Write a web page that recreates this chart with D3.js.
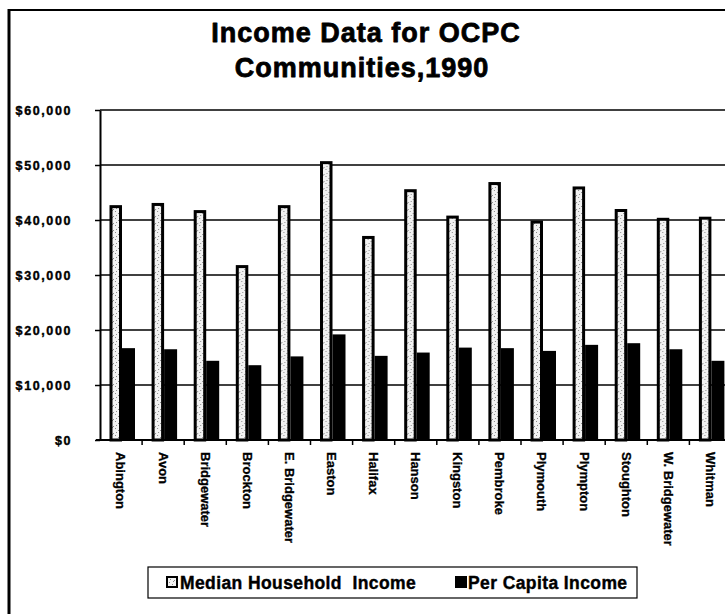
<!DOCTYPE html>
<html>
<head>
<meta charset="utf-8">
<script src="https://cdn.jsdelivr.net/npm/d3@7"></script>
<style>
  body { margin: 0; background: #fff; }
  text { font-family: "Liberation Sans", Arial, sans-serif; font-weight: bold; fill: #000; }
</style>
</head>
<body>
<script>
// 1990 income figures
var categories = ["Abington", "Avon", "Bridgewater", "Brockton", "E. Bridgewater", "Easton",
    "Halifax", "Hanson", "Kingston", "Pembroke", "Plymouth", "Plympton", "Stoughton",
    "W. Bridgewater", "Whitman"];
var seriesNames = ["Median Household  Income", "Per Capita Income"];
var medianIncome = [42700, 43100, 41800, 31800, 42700, 50700, 37100, 45600, 40800, 46900,
    39900, 46100, 42000, 40400, 40600];
var perCapitaIncome = [16700, 16500, 14400, 13600, 15200, 19200, 15300, 15900, 16800, 16700,
    16200, 17300, 17600, 16500, 14400];
var yTickValues = [0, 10000, 20000, 30000, 40000, 50000, 60000];

var width = 725,
    height = 614;

var plot = {left: 100, top: 110, bottom: 440, band: 42.1};

const svg = d3.select("body")
    .append("svg")
    .attr("width", width)
    .attr("height", height);

// stippled fill for the median bars
var pat = svg.append("defs").append("pattern")
    .attr("id", "stipple")
    .attr("patternUnits", "userSpaceOnUse")
    .attr("width", 7)
    .attr("height", 7);
pat.append("rect").attr("width", 7).attr("height", 7).attr("fill", "#f2f2f2");
[[1, 1], [4, 3], [2, 5], [6, 6], [5, 0]].forEach(p => {
    pat.append("rect").attr("x", p[0]).attr("y", p[1])
        .attr("width", 1).attr("height", 1).attr("fill", "#8a8a8a");
});

// outer frame (left and top edges only are visible)
svg.append("line").attr("x1", 9).attr("x2", 9).attr("y1", 9).attr("y2", height)
    .style("stroke", "#000").style("stroke-width", 3);
svg.append("line").attr("x1", 8).attr("x2", width).attr("y1", 10).attr("y2", 10)
    .style("stroke", "#000").style("stroke-width", 2);

// title
function heavy(sel, w) {
    sel.style("stroke", "#000").style("stroke-width", w).style("stroke-linejoin", "round");
}
svg.append("text").attr("x", 366).attr("y", 42)
    .attr("text-anchor", "middle")
    .style("font-size", "27px").style("letter-spacing", "1px")
    .text("Income Data for OCPC")
    .call(heavy, 0.8);
svg.append("text").attr("x", 362).attr("y", 77)
    .attr("text-anchor", "middle")
    .style("font-size", "27px").style("letter-spacing", "1px")
    .text("Communities,1990")
    .call(heavy, 0.8);

var x = d3.scaleBand()
    .domain(categories)
    .range([plot.left, plot.left + plot.band * categories.length])
    .padding(0);

var x1 = d3.scaleBand()
    .domain(seriesNames)
    .range([9.5, 34.5]);

var y = d3.scaleLinear()
    .domain([0, 60000])
    .range([plot.bottom, plot.top]);

// gridlines
svg.append("g").selectAll("line")
    .data(yTickValues.slice(1))
    .join("line")
    .attr("x1", plot.left)
    .attr("x2", x.range()[1])
    .attr("y1", d => y(d))
    .attr("y2", d => y(d))
    .style("stroke", "#000")
    .style("stroke-width", 1.6);

// y axis
var yAxis = svg.append("g")
    .attr("transform", "translate(" + plot.left + ",0)")
    .call(d3.axisLeft(y).tickValues(yTickValues).tickFormat(d3.format("$,"))
        .tickSizeInner(5).tickSizeOuter(0).tickPadding(23));
yAxis.select(".domain").style("stroke", "#000").style("stroke-width", 2);
yAxis.selectAll(".tick line").style("stroke", "#000").style("stroke-width", 1.5);
yAxis.selectAll(".tick text")
    .attr("dy", "0.38em")
    .style("font-size", "12.5px")
    .style("letter-spacing", "1.6px")
    .style("font-family", "'Liberation Sans', Arial, sans-serif")
    .call(heavy, 0.4);

// bars
var groups = svg.append("g").selectAll("g")
    .data(categories)
    .join("g")
    .attr("transform", d => "translate(" + x(d) + ",0)");

groups.append("rect")
    .attr("x", (d, i) => x1(seriesNames[0]) + 1.5)
    .attr("y", (d, i) => y(medianIncome[i]) + 1.5)
    .attr("width", x1.bandwidth() - 3)
    .attr("height", (d, i) => y(0) - y(medianIncome[i]) - 1.5)
    .attr("fill", "url(#stipple)")
    .style("stroke", "#000")
    .style("stroke-width", 3);

groups.append("rect")
    .attr("x", x1(seriesNames[1]))
    .attr("y", (d, i) => y(perCapitaIncome[i]))
    .attr("width", x1.bandwidth() + 0.5)
    .attr("height", (d, i) => y(0) - y(perCapitaIncome[i]))
    .attr("fill", "#000");

// x axis line, ticks between categories
svg.append("line")
    .attr("x1", plot.left - 4).attr("x2", x.range()[1])
    .attr("y1", plot.bottom).attr("y2", plot.bottom)
    .style("stroke", "#000").style("stroke-width", 2);

svg.append("g").selectAll("line")
    .data(categories.slice(1))
    .join("line")
    .attr("x1", d => x(d))
    .attr("x2", d => x(d))
    .attr("y1", plot.bottom)
    .attr("y2", plot.bottom + 5)
    .style("stroke", "#000")
    .style("stroke-width", 1.5);

var xAxis = svg.append("g")
    .attr("transform", "translate(0," + plot.bottom + ")")
    .call(d3.axisBottom(x).tickSize(0).tickSizeOuter(0));
xAxis.select(".domain").remove();
xAxis.selectAll(".tick text")
    .attr("transform", "rotate(90)")
    .attr("x", 12)
    .attr("y", 0)
    .attr("dy", "0.35em")
    .attr("text-anchor", "start")
    .style("font-size", "13px")
    .style("font-family", "'Liberation Sans', Arial, sans-serif")
    .call(heavy, 0.3);

// legend
var legend = svg.append("g");
legend.append("rect")
    .attr("x", 148).attr("y", 567)
    .attr("width", 489).attr("height", 31)
    .attr("fill", "none")
    .style("stroke", "#000").style("stroke-width", 1.2);

legend.append("rect")
    .attr("x", 167).attr("y", 577).attr("width", 10).attr("height", 10)
    .attr("fill", "url(#stipple)")
    .style("stroke", "#000").style("stroke-width", 2);
legend.append("text")
    .attr("x", 180).attr("y", 589)
    .style("font-size", "17.5px")
    .style("letter-spacing", "0.4px")
    .style("white-space", "pre")
    .attr("xml:space", "preserve")
    .text(seriesNames[0])
    .call(heavy, 0.4);

legend.append("rect")
    .attr("x", 455).attr("y", 576).attr("width", 12).attr("height", 12)
    .attr("fill", "#000");
legend.append("text")
    .attr("x", 468).attr("y", 589)
    .style("font-size", "17.5px")
    .style("letter-spacing", "0.4px")
    .text(seriesNames[1])
    .call(heavy, 0.4);
</script>
</body>
</html>
